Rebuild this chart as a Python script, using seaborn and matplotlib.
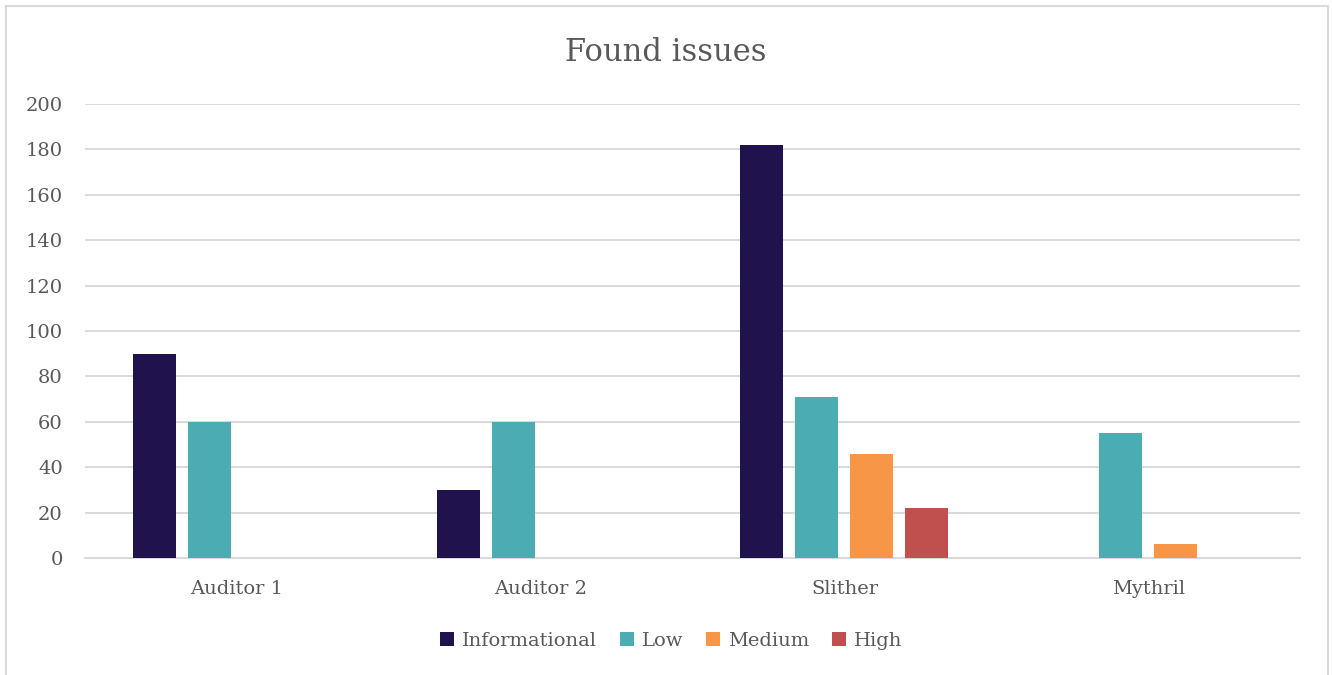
import numpy as np
import pandas as pd
import matplotlib.pyplot as plt
import seaborn as sns
from matplotlib.patches import Rectangle

# data
tools = ['Auditor 1', 'Auditor 2', 'Slither', 'Mythril']
severities = ['Informational', 'Low', 'Medium', 'High']
informational = [90, 30, 182, 0]
low = [60, 60, 71, 55]
medium = [0, 0, 46, 6]
high = [0, 0, 22, 0]
colors = ['#20124d', '#4bacb3', '#f79646', '#c0504d']
#####################################
df = pd.DataFrame({'Tool': tools, 'Informational': informational,
                   'Low': low, 'Medium': medium, 'High': high})
long_df = df.melt(id_vars='Tool', var_name='Severity', value_name='Count')

sns.set_theme(style='white')
plt.rcParams['font.family'] = ['DejaVu Serif']
text_color = '#595959'
grid_color = '#d9d9d9'

fig = plt.figure(figsize=(13.32, 6.75), dpi=100)
ax = fig.add_axes([0.0638, 0.1733, 0.9122, 0.6726])

sns.barplot(data=long_df, x='Tool', y='Count', hue='Severity', order=tools,
            hue_order=severities, palette=colors, width=0.724, gap=0.22,
            linewidth=0, saturation=1, ax=ax, zorder=3)

ax.set_xlim(-0.5, 3.5)
ax.set_ylim(0, 200)
ax.set_yticks(range(0, 201, 20))
ax.yaxis.grid(True, color=grid_color, linewidth=1.4, zorder=0)
ax.set_axisbelow(True)
for side in ['top', 'right', 'left']:
    ax.spines[side].set_visible(False)
ax.spines['bottom'].set_color(grid_color)
ax.spines['bottom'].set_linewidth(1.4)
ax.tick_params(axis='both', length=0, labelsize=14, labelcolor=text_color)
ax.tick_params(axis='y', pad=16)
ax.tick_params(axis='x', pad=16)
ax.set_xlabel('')
ax.set_ylabel('')

fig.suptitle('Found issues', x=0.5, y=0.945, fontsize=22, color=text_color)

handles, labels = ax.get_legend_handles_labels()
ax.get_legend().remove()
fig.legend(handles, labels, loc='center', bbox_to_anchor=(0.504, 1 - 641 / 675),
           ncol=4, frameon=False, fontsize=14, labelcolor=text_color,
           handlelength=0.7, handleheight=0.7, handletextpad=0.4,
           columnspacing=1.2)

fig.patches.append(Rectangle((6 / 1332, -0.1), 1322 / 1332, 1.1 - 6 / 675,
                             transform=fig.transFigure, fill=False,
                             edgecolor=grid_color, linewidth=1.5))

fig.savefig('out.png', dpi=100)
